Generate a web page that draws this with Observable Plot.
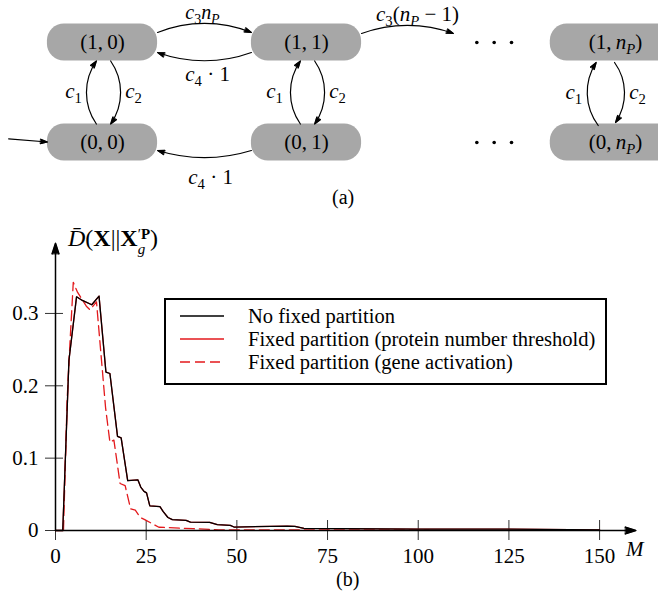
<!DOCTYPE html>
<html><head><meta charset="utf-8">
<script src="https://cdn.jsdelivr.net/npm/d3@7"></script>
<script src="https://cdn.jsdelivr.net/npm/@observablehq/plot@0.6"></script>
<style>
body{margin:0;background:#fff;}
#wrap{position:relative;width:658px;height:594px;overflow:hidden;font-family:"Liberation Serif",serif;color:#000;}
.abs{position:absolute;white-space:nowrap;}
#wrap svg{position:absolute;left:0;}
</style></head><body><div id="wrap"></div>
<script>
// ================= (a) state diagram data (diagram units) =================
const stateCols = [0, 1, 2.515];           // columns: 0, 1, n_P
const stateColNames = ["0", "1", "n_P"];
const stateColHalfW = [0.27, 0.27, 0.32];
const stateRows = [0, 1];
const nodeHalfH = 0.185;
const dotsX = [1.835, 1.92, 2.005];         // "· · ·" between 1 and n_P
// transitions: [x1, y1, x2, y2, bend]
const transitions = [
  [0.27, 1.10, 0.73, 1.10, 22],
  [0.73, 0.90, 0.27, 0.90, 20],
  [-0.03, 0.185, -0.03, 0.815, 35],
  [0.04, 0.815, 0.04, 0.185, 35],
  [0.97, 0.185, 0.97, 0.815, 35],
  [1.04, 0.815, 1.04, 0.185, 35],
  [0.73, -0.08, 0.27, -0.08, 17],
  [1.27, 1.09, 1.72, 1.09, 20],
  [2.43, 0.17, 2.42, 0.80, 35],
  [2.51, 0.80, 2.515, 0.20, 35],
  [-0.46, 0.037, -0.27, 0.005, 0]
];
// transition rate labels: [x, baseline y, text, font size]
const rateLabels = [
  [0.49, 1.238, "c_3n_P", 20],
  [0.515, 0.62, "c_4 · 1", 21],
  [-0.142, 0.45, "c_1", 21],
  [0.152, 0.45, "c_2", 21],
  [0.53, -0.41, "c_4 · 1", 21],
  [0.843, 0.45, "c_1", 21],
  [1.152, 0.45, "c_2", 21],
  [1.544, 1.212, "c_3(n_P − 1)", 21],
  [2.31, 0.44, "c_1", 21],
  [2.623, 0.44, "c_2", 21]
];

// ================= (b) chart data =================
const xTicks = [0, 25, 50, 75, 100, 125, 150];
const yTicks = [0, 0.1, 0.2, 0.3];
const yTickLabels = ["0", "0.1", "0.2", "0.3"];
const noFixedM = [0, 2, 3.7, 5.8, 7.4, 10, 12, 13.9, 15, 17.1, 18.1, 19.9, 22.7, 23.5, 24.4, 25.1, 26, 28.8, 29.7, 31, 32.2, 36, 37.2, 42.5, 44.6, 48.2, 49.2, 63.9, 66, 68.5, 100, 125, 150];
const noFixedY = [0, 0, 0.235, 0.323, 0.318, 0.312, 0.324, 0.219, 0.217, 0.130, 0.128, 0.069, 0.070, 0.060, 0.054, 0.052, 0.034, 0.033, 0.026, 0.018, 0.015, 0.014, 0.0115, 0.0112, 0.008, 0.007, 0.0048, 0.006, 0.0058, 0.003, 0.002, 0.0018, 0.0008];
const thresholdM = [0, 2, 3.7, 5.8, 7.4, 10, 12, 13.9, 15, 17.1, 18.1, 19.9, 22.7, 23.5, 24.4, 25.1, 26, 28.8, 29.7, 31, 32.2, 36, 37.2, 42.5, 44.6, 48.2, 49.2, 63.9, 66, 68.5, 100, 125, 150];
const thresholdY = [0, 0, 0.235, 0.323, 0.318, 0.312, 0.324, 0.219, 0.217, 0.130, 0.128, 0.069, 0.070, 0.060, 0.054, 0.052, 0.034, 0.033, 0.026, 0.018, 0.015, 0.014, 0.0115, 0.0112, 0.008, 0.007, 0.0048, 0.006, 0.0058, 0.003, 0.002, 0.0018, 0.0008];
const geneM = [2.2, 3.2, 4, 4.9, 6.1, 8.5, 9.5, 11.3, 13.8, 15, 16.1, 17.8, 19.2, 20.7, 22, 23.4, 24.6, 28.5, 38, 45, 103];
const geneY = [0, 0.18, 0.26, 0.343, 0.329, 0.31, 0.305, 0.316, 0.17, 0.122, 0.125, 0.065, 0.062, 0.030, 0.028, 0.018, 0.015, 0.0045, 0.0025, 0.001, 0.001];
const seriesNames = ["No fixed partition", "Fixed partition (protein number threshold)", "Fixed partition (gene activation)"];
const seriesColors = ["#000000", "#e3191c", "#e3191c"];
const seriesDash = [null, null, "10,5"];
const axisArrows = [[0, 0, 160, 0], [0, 0, 0, 0.397]];

// ================= helpers =================
const NS = "http://www.w3.org/2000/svg";
function mathify(el) {
  const s = el.textContent;
  el.textContent = "";
  el.style.whiteSpace = "pre";
  let shift = 0;
  for (let i = 0; i < s.length; i++) {
    let ch = s[i], sub = false;
    if (ch === "_") { sub = true; ch = s[++i]; }
    const t = document.createElementNS(NS, "tspan");
    t.textContent = ch;
    if (/[A-Za-z]/.test(ch)) t.setAttribute("font-style", "italic");
    const target = sub ? 5 : 0;
    if (target !== shift) { t.setAttribute("dy", target - shift); shift = target; }
    if (sub) t.setAttribute("font-size", "0.7em");
    el.appendChild(t);
  }
}
function fillHeads(svg) {
  svg.querySelectorAll("g.arr path").forEach(p => {
    const d = p.getAttribute("d"); const k = d.lastIndexOf("M");
    if (k <= 0) return;
    const h = document.createElementNS(NS, "path");
    h.setAttribute("d", d.slice(k) + "Z");
    h.setAttribute("fill", "#000"); h.setAttribute("stroke", "#000");
    h.setAttribute("stroke-width", "0.6"); h.setAttribute("stroke-linejoin", "miter");
    p.parentNode.appendChild(h);
  });
}

const wrap = document.getElementById("wrap");

// ================= diagram =================
const nodes = [];
stateRows.forEach(r => stateCols.forEach((c, j) => nodes.push({
  x1: c - stateColHalfW[j], x2: c + stateColHalfW[j], y1: r - nodeHalfH, y2: r + nodeHalfH,
  cx: c, cy: r, label: `(${r},\u2009${stateColNames[j]})`
})));
const dots = [];
stateRows.forEach(r => dotsX.forEach(x => dots.push({x, y: r})));
const bends = Array.from(new Set(transitions.map(t => t[4])));

const diagram = Plot.plot({
  width: 658, height: 190, margin: 0,
  x: {domain: [-0.5, 2.7255], axis: null},
  y: {domain: [-0.48, 1.42], axis: null},
  style: {fontFamily: "Liberation Serif", fontSize: "21px", background: "transparent", overflow: "visible"},
  marks: [
    Plot.rect(nodes, {x1: "x1", x2: "x2", y1: "y1", y2: "y2", fill: "#a7a7a7", rx: 17}),
    Plot.text(nodes, {x: "cx", y: "cy", text: "label", fontSize: 21, lineAnchor: "middle", className: "mathlbl"}),
    Plot.dot(dots, {x: "x", y: "y", r: 1.8, fill: "#000", stroke: null}),
    ...bends.map(b => Plot.arrow(transitions.filter(t => t[4] === b), {
      x1: d => d[0], y1: d => d[1], x2: d => d[2], y2: d => d[3],
      bend: b, headLength: 9, headAngle: 36, stroke: "#000", strokeWidth: 1.2, className: "arr"
    })),
    Plot.text(rateLabels, {x: d => d[0], y: d => d[1], text: d => d[2], fontSize: d => d[3], lineAnchor: "bottom", className: "mathlbl"})
  ]
});
diagram.style.top = "0px";
wrap.appendChild(diagram);
diagram.querySelectorAll("g.mathlbl text").forEach(mathify);
fillHeads(diagram);

const capA = document.createElement("div");
capA.className = "abs"; capA.textContent = "(a)";
capA.style.cssText = "left:332px;top:186px;font-size:20px;";
wrap.appendChild(capA);

// ================= chart =================
const toRows = (M, Y) => M.map((m, i) => ({m, v: Y[i]}));
const data = [toRows(noFixedM, noFixedY), toRows(thresholdM, thresholdY), toRows(geneM, geneY)];
const drawOrder = [1, 2, 0];
const chart = Plot.plot({
  width: 658, height: 345,
  marginLeft: 55, marginRight: 4.5, marginTop: 15.6, marginBottom: 40,
  x: {domain: [0, 165]},
  y: {domain: [0, 0.4]},
  style: {fontFamily: "Liberation Serif", fontSize: "21px", background: "transparent", overflow: "visible"},
  marks: [
    Plot.axisY({ticks: yTicks, tickFormat: d => yTickLabels[yTicks.indexOf(d)], tickSize: 18, dx: 8, tickPadding: 7, stroke: "#333", strokeWidth: 1, label: null, fontSize: 21}),
    Plot.axisX({ticks: xTicks, tickFormat: d => String(d), tickSize: 20, dy: -10, tickPadding: 8, stroke: "#333", strokeWidth: 1, label: null, fontSize: 21}),
    ...drawOrder.map(k => Plot.line(data[k], {x: "m", y: "v", stroke: seriesColors[k], strokeWidth: 1.3, strokeDasharray: seriesDash[k] || undefined})),
    Plot.arrow(axisArrows, {x1: d => d[0], y1: d => d[1], x2: d => d[2], y2: d => d[3], headLength: 11, headAngle: 36, stroke: "#000", strokeWidth: 1.5, className: "arr"})
  ]
});
chart.style.top = "225px";
wrap.appendChild(chart);
fillHeads(chart);

// y label, axis label, caption
const ylab = document.createElement("div");
ylab.className = "abs";
ylab.style.cssText = "left:68px;top:224px;font-size:24px;line-height:28px;";
ylab.innerHTML = '<i>D\u0304</i>(<b>X</b>||<b>X</b><span style="display:inline-block;vertical-align:-8px;font-size:15px;"><span style="display:block;line-height:15px;">\u2032<b>P</b></span><span style="display:block;line-height:15px;"><i>g</i></span></span>)';
wrap.appendChild(ylab);

const mlab = document.createElement("div");
mlab.className = "abs"; mlab.innerHTML = "<i>M</i>";
mlab.style.cssText = "left:626px;top:537px;font-size:21px;";
wrap.appendChild(mlab);

const capB = document.createElement("div");
capB.className = "abs"; capB.textContent = "(b)";
capB.style.cssText = "left:336px;top:568px;font-size:20px;";
wrap.appendChild(capB);

// legend
const leg = document.createElement("div");
leg.className = "abs";
leg.style.cssText = "left:164px;top:298px;width:443px;height:87px;box-sizing:border-box;border:2px solid #000;background:#fff;";
wrap.appendChild(leg);
const lsvg = d3.select(leg).append("svg").attr("width", 439).attr("height", 83).style("position", "absolute").style("left", "0px").style("top", "0px");
seriesNames.forEach((name, i) => {
  const cy = 16 + i * 23;
  lsvg.append("line").attr("x1", 14).attr("x2", 58).attr("y1", cy).attr("y2", cy)
    .attr("stroke", seriesColors[i]).attr("stroke-width", 1.3)
    .attr("stroke-dasharray", seriesDash[i] || null);
  lsvg.append("text").attr("x", 82).attr("y", cy + 6.5).attr("font-family", "Liberation Serif").attr("font-size", 20.5).text(name);
});
</script></body></html>
